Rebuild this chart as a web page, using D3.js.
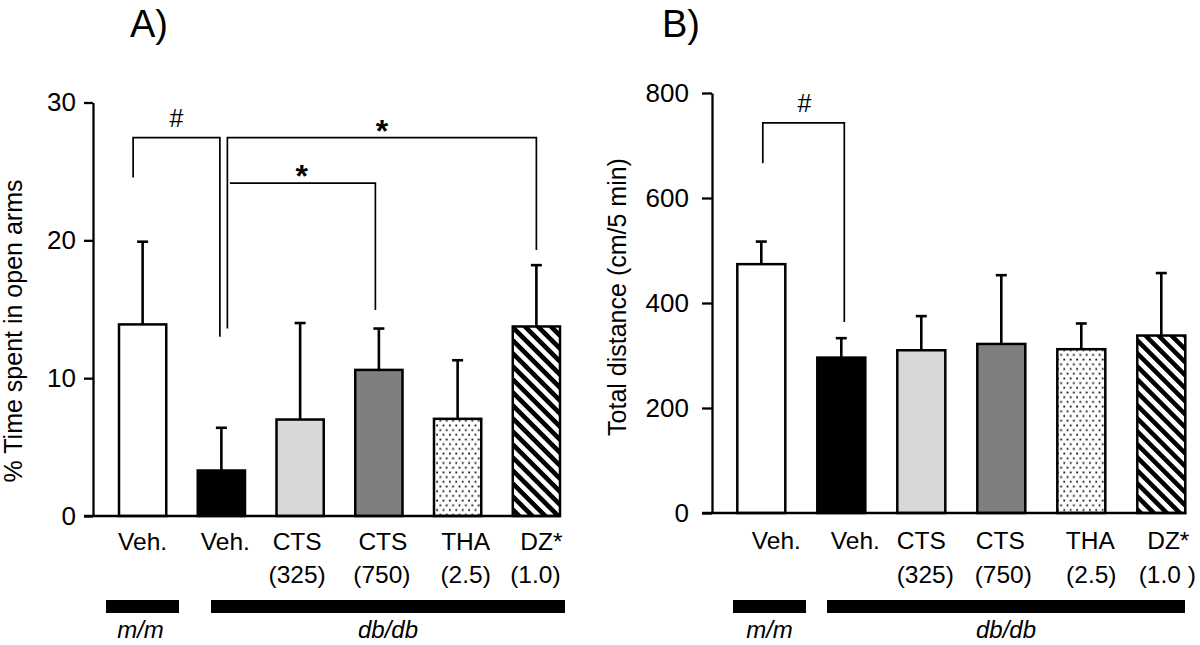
<!DOCTYPE html>
<html>
<head>
<meta charset="utf-8">
<script src="https://cdn.jsdelivr.net/npm/d3@7"></script>
<style>
  html, body { margin: 0; padding: 0; background: #fff; }
  svg { display: block; font-family: "Liberation Sans", Arial, Helvetica, sans-serif; }
</style>
</head>
<body>
<svg id="chart" width="1200" height="645"></svg>
<script>
// ---------------- DATA ----------------
const treatments = ["Veh.", "Veh.", "CTS", "CTS", "THA", "DZ*"];
const dosesA = ["", "", "(325)", "(750)", "(2.5)", "(1.0)"];
const dosesB = ["", "", "(325)", "(750)", "(2.5)", "(1.0 )"];
const genotypes = ["m/m", "db/db"];          // m/m: first bar, db/db: remaining bars
const genotypeSpans = [[0, 0], [1, 5]];
const fills = ["white", "black", "lightgray", "gray", "dots", "hatch"];

// Panel A: % time spent in open arms (mean, SEM)
const timeMean = [13.9, 3.3, 7.0, 10.6, 7.05, 13.75];
const timeSem  = [6.0, 3.1, 7.0, 3.0, 4.25, 4.45];
const timeTicks = [0, 10, 20, 30];

// Panel B: total distance (cm/5 min) (mean, SEM)
const distMean = [474, 296, 310, 322, 312, 338];
const distSem  = [43, 37, 65, 131, 49, 119];
const distTicks = [0, 200, 400, 600, 800];

// Significance brackets: from/to bar index, leg bottoms & bar top (data units)
const sigA = [
  { from: 0, to: 1, top: 27.45, leftBottom: 24.55, rightBottom: 13.0, mark: "#", leftLeg: true },
  { from: 1, to: 5, top: 27.45, leftBottom: 13.6, rightBottom: 19.3, mark: "*", leftLeg: true },
  { from: 1, to: 3, top: 24.15, leftBottom: 24.15, rightBottom: 14.95, mark: "*", leftLeg: false }
];
const sigB = [
  { from: 0, to: 1, top: 743, leftBottom: 666, rightBottom: 364, mark: "#", leftLeg: true }
];

// ---------------- LAYOUT ----------------
const svg = d3.select("#chart");
const defs = svg.append("defs");

const dots = defs.append("pattern").attr("id", "dots")
  .attr("patternUnits", "userSpaceOnUse").attr("width", 6.4).attr("height", 9.4);
dots.append("rect").attr("width", 6.4).attr("height", 9.4).attr("fill", "white");
dots.append("rect").attr("x", 1).attr("y", 1.5).attr("width", 1.8).attr("height", 1.8).attr("fill", "#111");
dots.append("rect").attr("x", 4.2).attr("y", 6.2).attr("width", 1.8).attr("height", 1.8).attr("fill", "#111");

const hatch = defs.append("pattern").attr("id", "hatch")
  .attr("patternUnits", "userSpaceOnUse").attr("width", 9.2).attr("height", 9.2)
  .attr("patternTransform", "rotate(-45)");
hatch.append("rect").attr("width", 9.2).attr("height", 9.2).attr("fill", "white");
hatch.append("rect").attr("width", 4.6).attr("height", 9.2).attr("fill", "black");

function fillOf(f) {
  if (f === "dots") return "url(#dots)";
  if (f === "hatch") return "url(#hatch)";
  if (f === "lightgray") return "#d8d8d8";
  if (f === "gray") return "#7f7f7f";
  return f;
}

function drawPanel(cfg) {
  const g = svg.append("g");
  const x = d3.scaleBand().domain(d3.range(treatments.length))
    .range(cfg.xRange).paddingInner(0.4).paddingOuter(0);
  const y = d3.scaleLinear().domain(cfg.yDomain).range(cfg.yRange);
  const bw = x.bandwidth();

  // y axis
  const yAxis = d3.axisLeft(y).tickValues(cfg.ticks).tickSize(cfg.tickLen).tickSizeOuter(0).tickPadding(cfg.tickPad);
  const ya = g.append("g").attr("transform", `translate(${cfg.axisX},0)`).call(yAxis);
  ya.select(".domain").attr("stroke", "#000").attr("stroke-width", 2.3);
  ya.selectAll(".tick line").attr("stroke", "#000").attr("stroke-width", 2.3);
  ya.selectAll(".tick text").attr("font-size", 26).attr("fill", "#000")
    .attr("font-family", "'Liberation Sans', Arial, sans-serif");

  // bars
  const data = cfg.mean.map((m, i) => ({ i, m, s: cfg.sem[i] }));
  g.selectAll(".err").data(data).join("line")
    .attr("x1", d => x(d.i) + bw / 2).attr("x2", d => x(d.i) + bw / 2)
    .attr("y1", d => y(d.m)).attr("y2", d => y(d.m + d.s))
    .attr("stroke", "#000").attr("stroke-width", 2.6);
  g.selectAll(".cap").data(data).join("line")
    .attr("x1", d => x(d.i) + bw / 2 - 5.5).attr("x2", d => x(d.i) + bw / 2 + 5.5)
    .attr("y1", d => y(d.m + d.s)).attr("y2", d => y(d.m + d.s))
    .attr("stroke", "#000").attr("stroke-width", 2.6);
  g.selectAll(".bar").data(data).join("rect")
    .attr("x", d => x(d.i)).attr("width", bw)
    .attr("y", d => y(d.m)).attr("height", d => y(0) - y(d.m))
    .attr("fill", d => fillOf(fills[d.i]))
    .attr("stroke", "#000").attr("stroke-width", 2.5);

  // x baseline
  g.append("line").attr("x1", cfg.axisX - cfg.tickLen).attr("x2", cfg.xRange[1] + 1)
    .attr("y1", y(0)).attr("y2", y(0)).attr("stroke", "#000").attr("stroke-width", 2.3);

  // category labels
  g.selectAll(".lab1").data(treatments).join("text")
    .attr("x", (d, i) => x(i) + bw / 2 + cfg.labelDx[i]).attr("y", cfg.labelY1)
    .attr("text-anchor", "middle").attr("font-size", 24.5).text(d => d);
  g.selectAll(".lab2").data(cfg.doses).join("text")
    .attr("x", (d, i) => x(i) + bw / 2 + cfg.doseDx[i]).attr("y", cfg.labelY2)
    .attr("text-anchor", "middle").attr("font-size", 24.5).text(d => d);

  // genotype bars
  genotypeSpans.forEach((sp, k) => {
    const gx0 = cfg.genoX[k][0], gx1 = cfg.genoX[k][1];
    g.append("rect").attr("x", gx0).attr("y", 600).attr("width", gx1 - gx0).attr("height", 13).attr("fill", "#000");
    g.append("text").attr("x", (gx0 + gx1) / 2 + cfg.genoDx[k]).attr("y", 638)
      .attr("text-anchor", "middle").attr("font-size", 24).attr("font-style", "italic").text(genotypes[k]);
  });

  // significance brackets
  cfg.sig.forEach((s, k) => {
    const xl = x(s.from) + bw / 2 + cfg.sigDx[k][0];
    const xr = x(s.to) + bw / 2 + cfg.sigDx[k][1];
    const yt = y(s.top);
    const pts = [];
    if (s.leftLeg) pts.push([xl, y(s.leftBottom)]);
    pts.push([xl, yt], [xr, yt], [xr, y(s.rightBottom)]);
    g.append("path").attr("d", d3.line()(pts)).attr("fill", "none")
      .attr("stroke", "#000").attr("stroke-width", 1.7);
    const isStar = s.mark === "*";
    g.append("text").attr("x", (xl + xr) / 2 + cfg.markDx[k]).attr("y", yt + (isStar ? 4 : -11))
      .attr("text-anchor", "middle").attr("font-size", isStar ? 32 : 25)
      .attr("font-weight", isStar ? "bold" : "normal").text(s.mark);
  });

  // y title
  g.append("text").attr("transform", `translate(${cfg.titleX},${cfg.titleY}) rotate(-90)`)
    .attr("text-anchor", "middle").attr("font-size", 25).text(cfg.yTitle);

  // panel letter
  g.append("text").attr("x", cfg.letterX).attr("y", 37).attr("font-size", 38).text(cfg.letter);
}

drawPanel({
  letter: "A)", letterX: 130,
  mean: timeMean, sem: timeSem, ticks: timeTicks, doses: dosesA,
  xRange: [119, 560], yDomain: [0, 30], yRange: [516, 102.5],
  axisX: 93, tickLen: 9, tickPad: 8,
  labelY1: 550, labelY2: 583,
  labelDx: [0, 4, -3, 4, 8, 5], doseDx: [0, 0, -3, 3, 8, -1],
  genoX: [[106, 179], [211, 565]], genoDx: [-2, 0],
  sig: sigA, sigDx: [[-9.5, -1.5], [6, 0], [8.5, -3.5]], markDx: [0, 0, -1],
  yTitle: "% Time spent in open arms", titleX: 22, titleY: 331
});

drawPanel({
  letter: "B)", letterX: 662,
  mean: distMean, sem: distSem, ticks: distTicks, doses: dosesB,
  xRange: [737.3, 1185.3], yDomain: [0, 800], yRange: [513, 93],
  axisX: 712, tickLen: 10, tickPad: 13,
  labelY1: 549, labelY2: 583,
  labelDx: [15, 14, 0, -1, 9, 7], doseDx: [0, 0, 4, 2, 10, 6],
  genoX: [[733, 806], [827, 1185]], genoDx: [0, 0],
  sig: sigB, sigDx: [[1.5, 3]], markDx: [1],
  yTitle: "Total distance (cm/5 min)", titleX: 626, titleY: 297
});
</script>
</body>
</html>
